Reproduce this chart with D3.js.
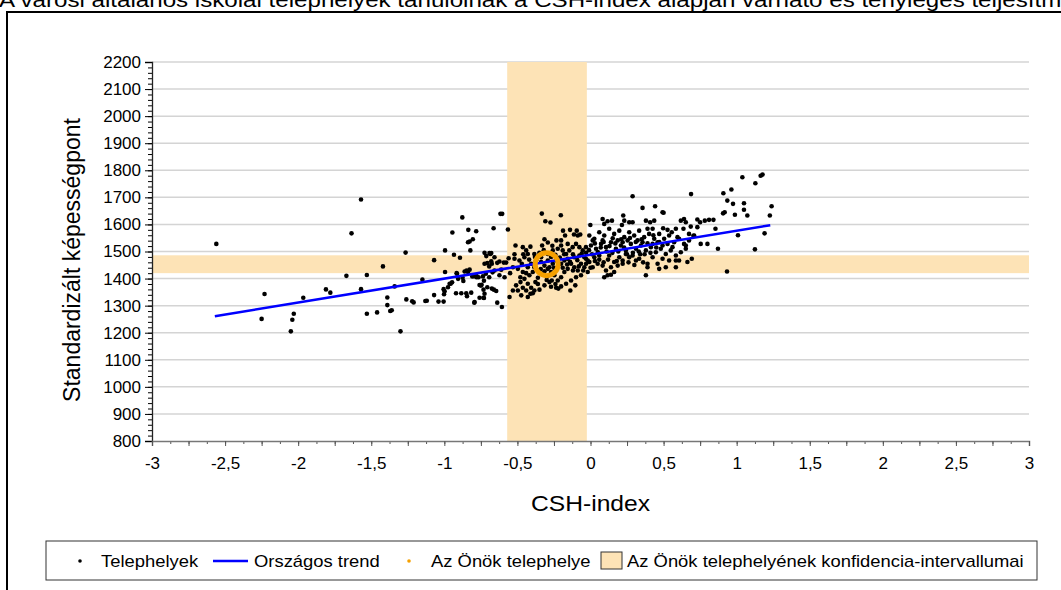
<!DOCTYPE html>
<html>
<head>
<meta charset="utf-8">
<script src="https://cdnjs.cloudflare.com/ajax/libs/d3/7.8.5/d3.min.js"></script>
<style>
body { margin: 0; background: #fff; }
svg { display: block; font-family: "Liberation Sans", Arial, sans-serif; }
</style>
</head>
<body>
<div id="chart"></div>
<script>
var titleText = "A városi általános iskolai telephelyek tanulóinak a CSH-index alapján várható és tényleges teljesítménye";
var xLabel = "CSH-index";
var yLabel = "Standardizált képességpont";

var xTicks = [-3, -2.5, -2, -1.5, -1, -0.5, 0, 0.5, 1, 1.5, 2, 2.5, 3];
var yTicks = [800, 900, 1000, 1100, 1200, 1300, 1400, 1500, 1600, 1700, 1800, 1900, 2000, 2100, 2200];

// telephelyek: [CSH-index, képességpont]
var sites = [
  [-2.56,1528],[-1.57,1692],[-1.635,1567],[-2.23,1343],[-2.25,1251],[-2.05,1205],[-2.04,1248],[-2.03,1270],
  [-1.965,1329],[-1.81,1360],[-1.78,1348],[-1.67,1410],[-1.53,1413],[-1.57,1361],[-1.53,1270],[-1.46,1275],
  [-1.42,1445],[-1.39,1302],[-1.39,1330],[-1.37,1280],[-1.36,1283],[-1.34,1371],[-1.30,1205],[-1.265,1496],
  [-1.26,1323],[-1.22,1316],[-1.21,1312],[-1.15,1396],[-1.13,1317],[-1.12,1318],[-1.07,1468],[-1.07,1339],
  [-1.04,1315],[-1.005,1315],[-1.005,1361],[-0.998,1353],[-1.002,1342],[-0.995,1504],[-0.995,1424],[-0.945,1570],
  [-0.934,1488],[-0.893,1477],[-0.877,1626],[-0.975,1368],[-0.964,1381],[-0.92,1346],[-0.884,1346],[-0.913,1418],
  [-0.906,1399],[-0.87,1391],[-0.848,1430],[-0.861,1426],[-0.838,1424],[-0.827,1433],[-0.845,1335],[-0.836,1580],
  [-0.838,1534],[-0.827,1537],[-0.805,1545],[-0.822,1504],[-0.782,1575],[-0.797,1409],[-0.782,1412],[-0.816,1348],
  [-0.795,1311],[-0.75,1374],[-0.759,1376],[-0.732,1329],[-0.725,1455],[-0.713,1483],[-0.691,1494],[-0.675,1455],
  [-0.657,1479],[-0.663,1586],[-0.675,1363],[-0.661,1359],[-0.645,1354],[-0.638,1311],[-0.616,1639],[-0.657,1430],
  [-0.623,1412],[-0.916,1420],[-0.809,1408],[-0.780,1405],[-0.766,1405],[-0.736,1408],[-0.729,1392],[-0.745,1377],
  [-0.706,1457],[-0.679,1494],[-0.693,1445],[-0.716,1418],[-0.693,1405],[-0.957,1381],[-0.947,1386],[-0.850,1346],
  [-0.875,1403],[-0.793,1313],[-0.759,1329],[-0.725,1344],[-0.732,1359],[-0.706,1368],
  [-0.604,1639],[-0.565,1581],[-0.333,1640],[-0.203,1634],[-0.309,1612],[-0.274,1607],[-0.140,1580],[-0.113,1563],
  [-0.094,1577],[-0.087,1559],[-0.070,1563],[-0.188,1577],[-0.174,1559],[-0.315,1545],[-0.331,1522],[-0.292,1533],
  [-0.261,1521],[-0.233,1541],[-0.201,1541],[-0.513,1522],[-0.463,1516],[-0.440,1504],[-0.411,1518],[-0.384,1491],
  [-0.429,1491],[-0.725,1495],[-0.686,1491],[-0.679,1464],[-0.638,1458],[-0.623,1463],[-0.593,1459],[-0.577,1459],
  [-0.670,1423],[-0.611,1433],[-0.588,1405],[-0.520,1473],[-0.486,1467],[-0.452,1479],[-0.470,1455],[-0.531,1442],
  [-0.497,1436],[-0.463,1424],[-0.429,1442],[-0.418,1412],[-0.452,1399],[-0.479,1387],[-0.509,1375],[-0.531,1356],
  [-0.497,1356],[-0.463,1366],[-0.429,1381],[-0.406,1366],[-0.384,1356],[-0.411,1344],[-0.377,1387],[-0.360,1403],
  [-0.338,1418],[-0.315,1427],[-0.292,1436],[-0.270,1424],[-0.247,1412],[-0.297,1408],[-0.265,1393],[-0.224,1393],
  [-0.201,1405],[-0.179,1424],[-0.156,1436],[-0.133,1455],[-0.111,1442],[-0.087,1430],[-0.065,1455],[-0.042,1442],
  [-0.019,1424],[-0.065,1412],[-0.099,1405],[-0.133,1393],[-0.167,1381],[-0.201,1371],[-0.235,1366],[-0.220,1363],
  [-0.281,1387],[-0.315,1375],[-0.349,1359],[-0.372,1467],[-0.338,1479],[-0.292,1491],[-0.258,1504],[-0.224,1510],
  [-0.190,1504],[-0.167,1491],[-0.145,1504],[-0.122,1516],[-0.099,1528],[-0.076,1516],[-0.053,1504],[-0.031,1516],
  [-0.156,1528],[-0.201,1522],[-0.338,1461],[-0.292,1467],[-0.258,1455],[-0.315,1448],[-0.281,1442],[-0.235,1467],
  [-0.201,1455],[-0.179,1467],[-0.156,1473],[-0.111,1479],[-0.076,1485],[-0.042,1479],[-0.019,1467],[-0.406,1455],
  [-0.384,1442],[-0.360,1430],[-0.395,1424],[-0.554,1332],[-0.606,1295],[-0.729,1328],[-0.138,1356],[-0.104,1375],
  [-0.440,1356],[-0.474,1338],[-0.429,1332],[-0.395,1346],
  [0.288,1704],[0.356,1661],[0.442,1667],[0.500,1643],[-0.001,1598],[0.083,1620],[0.117,1612],[0.147,1614],
  [0.094,1602],[0.224,1633],[0.231,1614],[0.265,1608],[0.288,1608],[0.215,1598],[0.379,1614],[0.408,1608],
  [0.436,1614],[0.390,1584],[0.425,1584],[0.497,1586],[0.527,1580],[0.556,1571],[0.584,1584],[0.618,1614],
  [0.640,1620],[0.652,1608],[0.636,1584],[0.674,1565],[0.709,1559],[-0.008,1559],[0.026,1547],[0.060,1571],
  [0.094,1559],[0.128,1584],[0.162,1565],[0.197,1577],[0.231,1553],[0.265,1571],[0.299,1559],[0.333,1577],
  [0.367,1553],[0.401,1565],[0.436,1547],[0.470,1565],[0.504,1547],[0.538,1559],[0.572,1534],[0.606,1547],
  [0.640,1528],[0.674,1541],[0.003,1522],[0.038,1510],[0.072,1528],[0.106,1516],[0.140,1534],[0.174,1510],
  [0.208,1522],[0.242,1504],[0.276,1528],[0.311,1510],[0.345,1522],[0.379,1504],[0.413,1516],[0.447,1497],
  [0.481,1510],[0.515,1491],[0.549,1504],[0.584,1485],[0.618,1497],[0.652,1510],[0.015,1541],[0.083,1541],
  [0.152,1549],[0.186,1541],[0.220,1534],[0.254,1541],[0.322,1541],[0.356,1534],[0.425,1528],[0.459,1534],
  [0.493,1522],[0.527,1528],[0.561,1516],[-0.031,1473],[-0.008,1461],[0.015,1442],[0.049,1455],[0.083,1448],
  [0.106,1430],[0.140,1442],[0.162,1461],[0.186,1448],[0.094,1405],[0.117,1412],[0.140,1414],[0.162,1424],
  [0.265,1479],[0.288,1485],[0.311,1467],[0.333,1473],[0.390,1455],[0.390,1442],[0.379,1412],[0.459,1455],
  [0.470,1436],[0.515,1442],[0.584,1442],[0.584,1467],[0.663,1461],[0.693,1473],[0.197,1479],[0.220,1467],
  [0.242,1491],[0.060,1485],[0.026,1479],[0.128,1485],[0.425,1479],[0.493,1473],[0.538,1467],
  [0.688,1712],[1.039,1774],[1.128,1752],[1.164,1780],[1.177,1784],[0.909,1715],[0.964,1729],[0.936,1688],
  [0.975,1676],[1.050,1678],[1.050,1654],[1.073,1633],[0.988,1636],[0.907,1641],[0.918,1645],[1.239,1667],
  [1.227,1633],[1.191,1567],[1.125,1508],[1.009,1560],[0.934,1426],[0.872,1510],[0.855,1584],[0.841,1617],
  [0.811,1617],[0.782,1614],[0.750,1608],[0.731,1618],[0.731,1590],[0.704,1558],[0.754,1528],[0.800,1528],
  [0.652,1522],[0.595,1553],[0.686,1592],[0.493,1645],[0.606,1467],
  [-0.35,1495],[-0.32,1505],[-0.27,1480],[-0.24,1488],[-0.21,1478],[-0.18,1490],[-0.14,1462],[-0.12,1490],
  [-0.09,1468],[-0.06,1492],[-0.03,1495],[-0.01,1505],[0.01,1490],[0.03,1530],[0.05,1498],[0.07,1515],
  [0.09,1535],[0.11,1500],[0.13,1520],[0.15,1495],[0.17,1530],[0.19,1500],[0.21,1545],[0.23,1515],
  [0.25,1490],[0.27,1550],[0.29,1495],[0.31,1535],[0.33,1500],[0.35,1545],[0.37,1490],[0.39,1530],
  [0.41,1495],[0.43,1560],[0.45,1515],[0.47,1535],[-0.25,1440],[-0.22,1450],[-0.19,1440],[-0.16,1452],
  [-0.12,1430],[-0.08,1445],[-0.05,1430],[-0.03,1455],[0.00,1440],[0.03,1465],[0.06,1470],[0.09,1460],
  [0.12,1470],[0.18,1465],[0.22,1455],[0.26,1460],[0.30,1450],[0.34,1490],[0.36,1460],[-0.46,1490],
  [-0.42,1470],[-0.38,1480],[-0.34,1435],[-0.30,1395],[-0.27,1370],[-0.24,1380],[-0.36,1380],[-0.44,1420],
  [-0.48,1405],[-0.55,1420],[-0.52,1490],[-0.56,1475]
];

// az önök telephelye és konfidencia-intervallumai
var ownSite = [-0.30, 1453];
var ownCshRange = [-0.57, -0.025];
var ownScoreRange = [1420, 1486];

// országos trend végpontjai
var trendCsh = [-2.57, 1.23];
var trendScore = [1261, 1597];

var legendLabels = ["Telephelyek", "Országos trend", "Az Önök telephelye", "Az Önök telephelyének konfidencia-intervallumai"];

var w = 1061;
var h = 590;
var bandColor = "#fde3b6";
var stretch = 1.15; // a minta szovegei kicsit szelesebbek

var svg = d3.select("#chart")
  .append("svg")
  .attr("width", w)
  .attr("height", h);

function wideText(parent, tx, ty, size, txt) {
  return parent.append("text")
    .attr("transform", "translate(" + tx + "," + ty + ") scale(" + stretch + ",1)")
    .attr("font-size", size)
    .text(txt);
}

// keret es cim
svg.append("rect")
  .attr("x", 7).attr("y", 12)
  .attr("width", w).attr("height", h)
  .attr("fill", "none")
  .attr("stroke", "#000")
  .attr("stroke-width", 2);

wideText(svg, -1, 7, 21, titleText);

var x = d3.scaleLinear().domain([-3, 3]).range([152, 1029]);
var y = d3.scaleLinear().domain([800, 2200]).range([441, 62]);

// racsvonalak
svg.append("g").selectAll("line")
  .data(yTicks.slice(1))
  .enter()
  .append("line")
  .attr("x1", x(-3)).attr("x2", x(3))
  .attr("y1", function(d) { return y(d); })
  .attr("y2", function(d) { return y(d); })
  .attr("stroke", "#d4d4d4")
  .attr("stroke-width", 1.5);

// konfidencia savok
svg.append("rect")
  .attr("x", x(-3))
  .attr("y", y(ownScoreRange[1]))
  .attr("width", x(3) - x(-3))
  .attr("height", y(ownScoreRange[0]) - y(ownScoreRange[1]))
  .attr("fill", bandColor);

svg.append("rect")
  .attr("x", x(ownCshRange[0]))
  .attr("y", y(2200))
  .attr("width", x(ownCshRange[1]) - x(ownCshRange[0]))
  .attr("height", y(800) - y(2200))
  .attr("fill", bandColor);

// tengelyek
var fmt = function(d) { return String(d).replace(".", ","); };

var yMinor = svg.append("g")
  .attr("transform", "translate(" + x(-3) + ",0)")
  .call(d3.axisLeft(y).tickValues(d3.range(800, 2201, 20)).tickSize(4).tickFormat(""));
yMinor.select(".domain").remove();

var yAxis = svg.append("g")
  .attr("transform", "translate(" + x(-3) + ",0)")
  .call(d3.axisLeft(y).tickValues(yTicks).tickSize(7).tickPadding(4).tickFormat(d3.format("d")));
yAxis.selectAll("text").attr("font-size", 17).attr("fill", "#000").attr("font-family", "Liberation Sans, Arial, sans-serif");
yAxis.select(".domain").attr("stroke", "#222").attr("stroke-width", 1.3);

var xMinor = svg.append("g")
  .attr("transform", "translate(0," + y(800) + ")")
  .call(d3.axisBottom(x).tickValues(d3.range(-3, 3.001, 0.125)).tickSize(3).tickFormat(""));
xMinor.select(".domain").remove();
xMinor.selectAll("line").attr("stroke", "#555");

var xAxis = svg.append("g")
  .attr("transform", "translate(0," + y(800) + ")")
  .call(d3.axisBottom(x).tickValues(d3.range(-3, 3.001, 0.25)).tickSize(5).tickPadding(11)
    .tickFormat(function(d) { return xTicks.indexOf(d) >= 0 ? fmt(d) : ""; }));
xAxis.selectAll("text").attr("font-size", 17).attr("fill", "#000").attr("font-family", "Liberation Sans, Arial, sans-serif");
xAxis.selectAll("line").attr("stroke", "#555");
xAxis.select(".domain").attr("stroke", "#777").attr("stroke-width", 1.5);

svg.append("text")
  .attr("transform", "translate(" + x(0) + ",511) scale(1.12,1)")
  .attr("text-anchor", "middle")
  .attr("font-size", 22)
  .text(xLabel);

svg.append("text")
  .attr("transform", "translate(80,260) rotate(-90)")
  .attr("text-anchor", "middle")
  .attr("font-size", 23)
  .text(yLabel);

// pontok
svg.append("g").selectAll("circle")
  .data(sites)
  .enter()
  .append("circle")
  .attr("cx", function(d) { return x(d[0]); })
  .attr("cy", function(d) { return y(d[1]); })
  .attr("r", 2.3)
  .attr("fill", "#000");

// trend
svg.append("line")
  .attr("x1", x(trendCsh[0])).attr("y1", y(trendScore[0]))
  .attr("x2", x(trendCsh[1])).attr("y2", y(trendScore[1]))
  .attr("stroke", "#0000ff")
  .attr("stroke-width", 2.5);

// sajat telephely
svg.append("circle")
  .attr("cx", x(ownSite[0])).attr("cy", y(ownSite[1]))
  .attr("r", 11.5)
  .attr("fill", "none")
  .attr("stroke", "#f5a000")
  .attr("stroke-width", 5);

// jelmagyarazat
var lg = svg.append("g");
lg.append("rect")
  .attr("x", 46).attr("y", 541)
  .attr("width", 991).attr("height", 39)
  .attr("fill", "#fff")
  .attr("stroke", "#333")
  .attr("stroke-width", 1);

var ly = 561;
lg.append("circle").attr("cx", 80).attr("cy", ly).attr("r", 1.8).attr("fill", "#000");
lg.append("line").attr("x1", 213).attr("x2", 248).attr("y1", ly).attr("y2", ly)
  .attr("stroke", "#0000ff").attr("stroke-width", 2.5);
lg.append("circle").attr("cx", 409).attr("cy", ly).attr("r", 1.8).attr("fill", "#f5a000");
lg.append("rect").attr("x", 601).attr("y", 552).attr("width", 21).attr("height", 17)
  .attr("fill", bandColor).attr("stroke", "#333").attr("stroke-width", 1);

var legendX = [101, 254, 431, 627];
legendLabels.forEach(function(d, i) {
  wideText(lg, legendX[i], ly + 6, 16, d);
});
</script>
</body>
</html>
